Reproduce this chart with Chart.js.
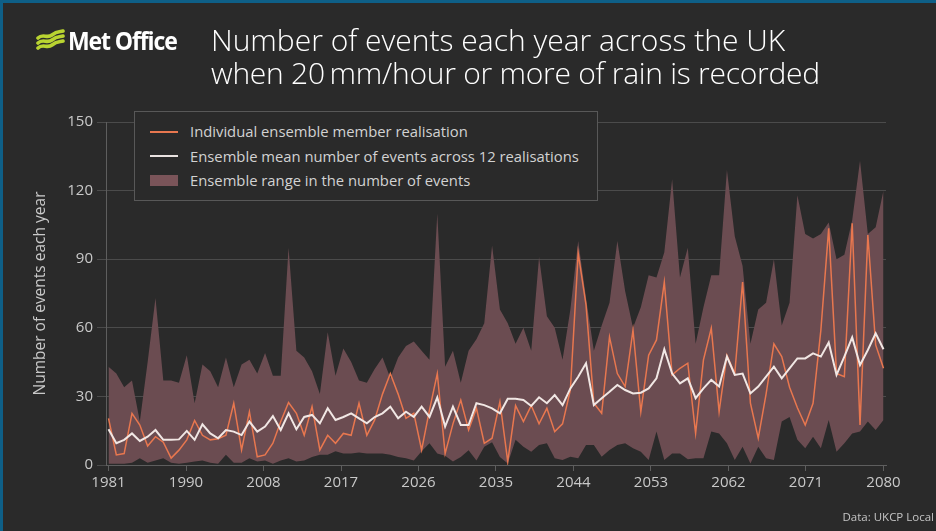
<!DOCTYPE html>
<html>
<head>
<meta charset="utf-8">
<script src="https://cdn.jsdelivr.net/npm/chart.js@4.4.1/dist/chart.umd.min.js"></script>
<style>
html,body{margin:0;padding:0;background:#2a2a2a;}
#page{position:relative;width:936px;height:531px;overflow:hidden;background:#2a2a2a;font-family:'Open Sans',sans-serif;}
#frameTop{position:absolute;left:0;top:0;width:936px;height:3px;background:#0e5f87;z-index:5;}
#frameLeft{position:absolute;left:0;top:0;width:3px;height:531px;background:#0e5f87;z-index:5;}
#c{position:absolute;left:0;top:0;z-index:1;}
#logoIcon{position:absolute;left:36px;top:29px;z-index:2;}
#logoText{position:absolute;left:68px;top:23px;font-size:25px;font-weight:700;color:#ffffff;letter-spacing:-1.2px;white-space:nowrap;transform-origin:left top;transform:scaleX(0.92);z-index:2;}
#title{position:absolute;left:211px;top:23px;font-size:30px;font-weight:300;color:#ffffff;line-height:33px;white-space:nowrap;z-index:2;}
#title .l2{letter-spacing:-0.26px;}
#legend{position:absolute;left:134px;top:111px;width:462px;height:88px;border:1px solid #585858;background:#2a2a2a;z-index:3;}
.row{position:absolute;left:0;height:20px;width:100%;}
.row span{position:absolute;left:55px;top:0;font-size:14.8px;line-height:20px;color:#d2d2d2;white-space:nowrap;}
.sw{position:absolute;left:15px;width:28px;}
#source{position:absolute;right:2px;top:509px;font-size:11.5px;color:#c4c4c4;white-space:nowrap;z-index:2;}
</style>
</head>
<body>
<div id="page">
  <div id="frameTop"></div><div id="frameLeft"></div>
  <canvas id="c" width="936" height="531"></canvas>
  <svg id="logoIcon" width="30" height="24" viewBox="0 0 30 24">
    <g fill="none" stroke="#b9d431" stroke-width="3.6" stroke-linecap="round">
      <path d="M2 9 C7 4, 11 10, 16 6 S24 3, 27 2"/>
      <path d="M2 14 C7 9, 11 15, 16 11 S24 8, 27 7"/>
      <path d="M2 19 C7 14, 11 20, 16 16 S24 13, 27 12"/>
    </g>
  </svg>
  <div id="logoText">Met Office</div>
  <div id="title">Number of events each year across the UK<br><span class="l2">when 20&#8201;mm/hour or more of rain is recorded</span></div>
  <div id="legend">
    <div class="row" style="top:9px"><div class="sw" style="top:10px;height:1.5px;background:#e8774f"></div><span>Individual ensemble member realisation</span></div>
    <div class="row" style="top:34px"><div class="sw" style="top:9px;height:2px;background:#e9e2e0"></div><span>Ensemble mean number of events across 12 realisations</span></div>
    <div class="row" style="top:58px"><div class="sw" style="top:5px;height:11px;background:#7a5459"></div><span>Ensemble range in the number of events</span></div>
  </div>
  <div id="source">Data: UKCP Local</div>
</div>
<script>
// ---- data ----
const years = [];
for (let y = 1981; y <= 2080; y++) years.push(y);

const rangeMax = [43,40,34,37,19,45,73,37,37,36,48,27,44,41,34,47,34,44,46,40,
  49,39,39,95,50,47,41,31,58,39,51,45,37,36,42,47,38,47,52,54,
  50,46,110,43,50,36,50,55,62,96,68,62,53,60,50,91,65,60,46,68,
  98,73,50,61,71,98,76,60,69,83,82,93,125,82,95,53,69,83,83,129,
  100,87,53,68,71,90,61,71,118,101,99,101,106,90,92,107,133,101,104,120];

const rangeMin = [0.5,0.5,0.5,1,3,1,2,3,1,0.5,1,1.5,2,1,0.5,4.5,1,1,3,1.5,
  2,0.5,2,3,1.5,2,3.5,4.5,4.5,6,5,5,5.5,5,5,5,4.5,3.5,3,2,
  6,9.5,5,4,1.5,3.5,6.5,2,8,10,3.5,0.7,11,8,5.8,8.7,9.5,3,2.2,3.6,
  3,8.7,8.7,3.6,6.6,8.7,9.5,7.3,5.8,2.2,14.6,2.2,5,5,2.5,3,3,14.6,13.8,9.5,
  2.2,8,0.7,8,3,2.2,19,21,11,7.3,12.4,7.3,19.7,5.8,9.5,13.8,14.6,19,15.3,19.7];

const ensembleMean = [15.6,9.5,11,13.8,10.5,12.4,15.3,11,11,11.2,14.9,11,17.8,13.8,11.7,15.3,14.6,13.1,19,14.6,
  16.8,21.4,15.3,22.6,15.6,21,21.9,18.2,24.8,19.7,21,22.6,20.4,18.2,21,22.6,25.5,20.4,23.3,21,
  25.5,21,29.6,16.8,25.5,17.5,17.5,27,26.2,24.8,22.6,29,29,28.4,25.8,29.6,27,30.6,26.2,33.5,
  38.6,44.5,26.2,29.2,32,35,32.8,31.3,31.6,33.5,37.9,50.6,40,35.7,37.9,29.2,33.5,37.2,34.3,47.4,
  39.4,40,31.3,34.3,38.6,43,37.9,42.3,46.6,46.6,48.8,47.4,53.6,39.4,47.4,55.8,43.7,50.3,57.6,50.6];

const memberRealisation = [20.4,4.4,5,22.6,17.5,8.3,12.4,10,3,6.5,11,19.5,13,11,11.5,13,27,6.6,23.3,3.6,
  4.4,9.5,19,27.3,22.6,13,25.5,6.6,13,9.5,13.8,13,27,13,19.7,31,40,31,20.4,22.6,
  6.6,24,40,5,18,28.4,15.3,24.8,9.5,11.7,27.7,1.5,26,19,26,18,24.8,14.6,18,32.8,
  92.6,70,27,22.6,56,40,34.3,59,23.3,48,54.7,80,39.4,42.3,44.5,13.8,46,59.8,23.3,48,
  40,80,27,11.7,31,53,47.4,34,25,17.5,27,59,103.5,40,38.6,105.7,17.5,100.6,52.5,42.3];

const xTickLabels = ['1981','1990','2008','2017','2026','2035','2044','2053','2062','2071','2080'];
const yTickValues = [0, 30, 60, 90, 120, 150];

// ---- chart ----
const toPoints = arr => arr.map((v, i) => ({ x: years[i], y: v }));
const firstYear = years[0], lastYear = years[years.length - 1];
const xTickPositions = xTickLabels.map((_, k) => firstYear + k * (lastYear - firstYear) / (xTickLabels.length - 1));

const tickFont = { family: "'Open Sans', sans-serif", size: 15 };
const tickColor = '#c9c9c9';

new Chart(document.getElementById('c'), {
  type: 'line',
  data: {
    datasets: [
      { label: 'Ensemble mean number of events across 12 realisations', data: toPoints(ensembleMean),
        borderColor: '#f1e7e4', borderWidth: 2, pointRadius: 0, fill: false, tension: 0 },
      { label: 'Individual ensemble member realisation', data: toPoints(memberRealisation),
        borderColor: '#e8774f', borderWidth: 1.5, pointRadius: 0, fill: false, tension: 0 },
      { label: 'Ensemble range in the number of events', data: toPoints(rangeMax),
        borderColor: 'rgba(0,0,0,0)', borderWidth: 0, backgroundColor: '#6b4c51', pointRadius: 0, fill: '+1', tension: 0 },
      { label: 'range min', data: toPoints(rangeMin),
        borderColor: 'rgba(0,0,0,0)', borderWidth: 0, pointRadius: 0, fill: false, tension: 0 }
    ]
  },
  options: {
    responsive: false,
    animation: false,
    layout: { padding: { left: 28, top: 122, right: 50, bottom: 26 } },
    plugins: { legend: { display: false }, tooltip: { enabled: false } },
    scales: {
      x: {
        type: 'linear', min: 1980.68, max: 2080.32,
        afterBuildTicks: s => { s.ticks = xTickPositions.map(v => ({ value: v })); },
        afterFit: s => { s.height = 40; },
        ticks: { callback: (v, i) => xTickLabels[i], color: tickColor, font: tickFont, padding: 3, maxRotation: 0, autoSkip: false },
        grid: { drawOnChartArea: false, drawTicks: true, tickLength: 6, color: '#5e5e5e' },
        border: { color: '#5e5e5e' }
      },
      y: {
        min: 0, max: 150,
        afterBuildTicks: s => { s.ticks = yTickValues.map(v => ({ value: v })); },
        afterFit: s => { s.width = 78; },
        ticks: { color: tickColor, font: tickFont, padding: 4 },
        grid: { color: '#4b4b4b', tickLength: 9 },
        border: { color: '#5e5e5e' },
        title: { display: true, text: 'Number of events each year', color: '#c9c9c9',
                 font: { family: "'Open Sans', sans-serif", size: 15.5 }, padding: { top: 3, bottom: 4 } }
      }
    }
  }
});
</script>
</body>
</html>
